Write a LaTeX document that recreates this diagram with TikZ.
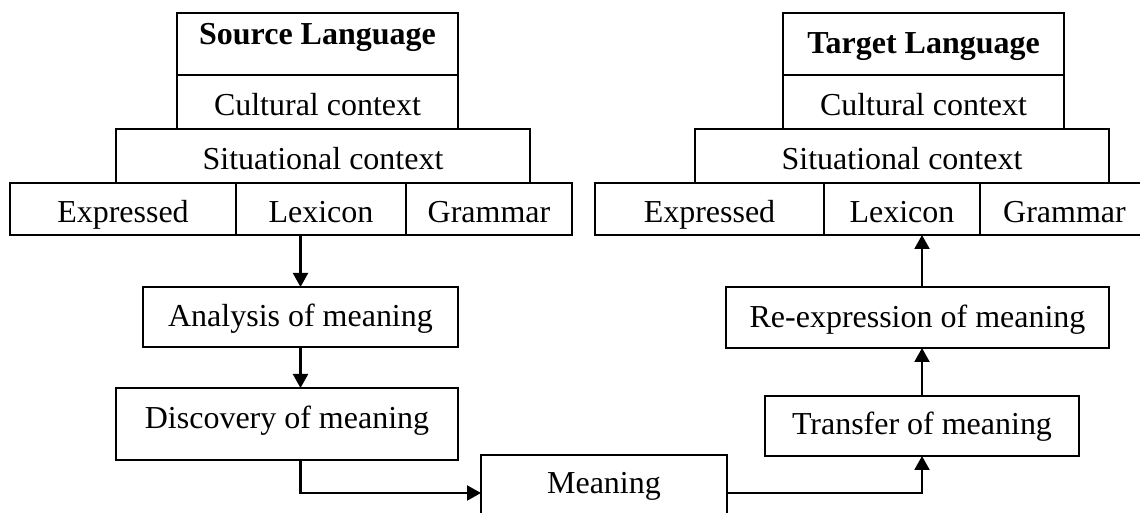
\documentclass[tikz,border=0pt]{standalone}
\usepackage{fontspec}
\setmainfont{Liberation Serif}
\usepackage{tikz}
\usetikzlibrary{arrows.meta, positioning}

\begin{document}
\begin{tikzpicture}[font=\fontsize{18.2}{20}\selectfont,
            box/.style={draw, line width=1.2pt, inner sep=0pt, outer sep=0pt,
                        text height=0.56cm, text depth=0pt},
            arr/.style={-{Triangle[length=0.28cm, width=0.3cm]}, line width=1.2pt}]
            \useasboundingbox (0,0) rectangle (22.8,-10.26);
            % source side
            \node[box, minimum width=5.62cm, minimum height=1.24cm,
                  text height=0.4cm, text depth=0.36cm] (srcLang)
              at (6.35,-0.88) {\textbf{Source Language}};
            \node[box, minimum width=5.62cm, minimum height=1.08cm] (srcCult)
              at (6.35,-2.04) {Cultural context};
            \node[box, minimum width=8.28cm, minimum height=1.08cm] (srcSit)
              at (6.46,-3.12) {Situational context};
            \node[box, minimum width=4.52cm, minimum height=1.04cm] (srcExp)
              at (2.46,-4.18) {Expressed};
            \node[box, minimum width=3.40cm, minimum height=1.04cm] (srcLex)
              at (6.42,-4.18) {Lexicon};
            \node[box, minimum width=3.32cm, minimum height=1.04cm] (srcGram)
              at (9.78,-4.18) {Grammar};
            % target side
            \node[box, minimum width=5.62cm, minimum height=1.24cm,
                  text height=0.4cm] (tgtLang)
              at (18.47,-0.88) {\textbf{Target Language}};
            \node[box, minimum width=5.62cm, minimum height=1.08cm] (tgtCult)
              at (18.47,-2.04) {Cultural context};
            \node[box, minimum width=8.28cm, minimum height=1.08cm] (tgtSit)
              at (18.04,-3.12) {Situational context};
            \node[box, minimum width=4.58cm, minimum height=1.04cm] (tgtExp)
              at (14.19,-4.18) {Expressed};
            \node[box, minimum width=3.12cm, minimum height=1.04cm] (tgtLex)
              at (18.04,-4.18) {Lexicon};
            \node[box, minimum width=3.38cm, minimum height=1.04cm] (tgtGram)
              at (21.29,-4.18) {Grammar};
            % process
            \node[box, minimum width=6.30cm, minimum height=1.20cm,
                  text height=0.4cm] (anl)
              at (6.01,-6.34) {Analysis of meaning};
            \node[box, minimum width=6.84cm, minimum height=1.44cm,
                  text height=0.4cm, text depth=0.2cm] (disc)
              at (5.74,-8.48) {Discovery of meaning};
            \node[box, minimum width=4.92cm, minimum height=1.52cm,
                  text height=0.4cm, text depth=0.36cm] (mean)
              at (12.08,-9.86) {Meaning};
            \node[box, minimum width=6.28cm, minimum height=1.20cm,
                  text height=0.36cm] (trans)
              at (18.44,-8.52) {Transfer of meaning};
            \node[box, minimum width=7.66cm, minimum height=1.22cm,
                  text height=0.42cm] (reexp)
              at (18.35,-6.35) {Re-expression of meaning};
            \draw[arr] (srcLex.south -| anl.north) -- (anl.north);
            \draw[arr] (anl.south) -- (anl.south |- disc.north);
            \draw[arr] (disc.south -| anl.south) |- (mean.west);
            \draw[arr] (mean.east) -| (trans.south);
            \draw[arr] (trans.north) -- (trans.north |- reexp.south);
            \draw[arr] (reexp.north -| trans.north) -- (trans.north |- tgtLex.south);
          \end{tikzpicture}
\end{document}
